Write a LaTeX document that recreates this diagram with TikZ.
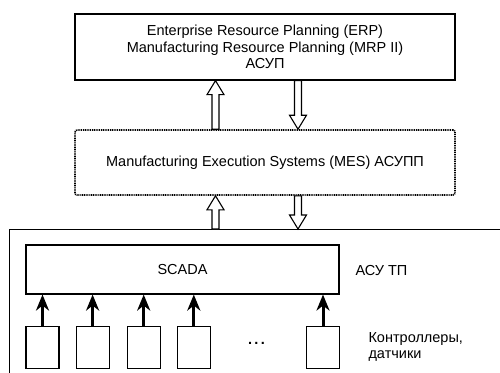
\documentclass[tikz,border=0pt]{standalone}
\usepackage{fontspec}
\setmainfont{Liberation Sans}
\usetikzlibrary{positioning,calc,arrows.meta}

\tikzset{
  level/.style={draw, line width=1.3pt, minimum width=380pt, minimum height=66pt, align=center},
  mesbox/.style={draw, line width=1.6pt, dash pattern=on 1pt off 0.8pt, rounded corners=2pt,
    minimum width=380pt, minimum height=65pt},
  unit/.style={draw, line width=1.1pt, minimum width=33pt, minimum height=42pt, inner sep=0pt},
  fat/.style={draw, fill=white, line width=1.1pt},
  sig/.style={line width=3pt, -{Stealth[length=16pt,width=13pt,inset=5pt]}}
}

% hollow arrow from tail #1 to tip #2
\newcommand{\fatarrow}[2]{
  \coordinate (fa-t) at #1;
  \coordinate (fa-h) at #2;
  \coordinate (fa-n) at ($(fa-h)!14pt!(fa-t)$);
  \draw[fat] ($(fa-t)!3.5pt!90:(fa-h)$) -- ($(fa-n)!3.5pt!-90:(fa-t)$) -- ($(fa-n)!8.5pt!-90:(fa-t)$)
    -- (fa-h) -- ($(fa-n)!8.5pt!90:(fa-t)$) -- ($(fa-n)!3.5pt!90:(fa-t)$)
    -- ($(fa-t)!3.5pt!-90:(fa-h)$) -- cycle;
}

\begin{document}
\begin{tikzpicture}[x=1pt, y=-1pt, font=\fontsize{14.5}{16.7}\selectfont]
\useasboundingbox (0,0) rectangle (500,372);
\clip (0,0) rectangle (500,372);

\node[level] (erp) at (265,47) {Enterprise Resource Planning (ERP)\\Manufacturing Resource Planning (MRP II)\\АСУП};
\node[mesbox] (mes) at (265,162.5) {Manufacturing Execution Systems (MES) АСУПП};
\node[draw, line width=1.1pt, anchor=north west, minimum width=520pt, minimum height=170pt] (plant) at (9,229) {};

\node[draw, line width=1.1pt, minimum width=313pt, minimum height=49pt] (scada) at (182.5,269.5) {SCADA};
\node[anchor=west] (asutp) at (352,271) {АСУ ТП};

\node[unit] (c1) at (42.5,347.5) {};
\node[unit, right=16pt of c1] (c2) {};
\node[unit, right=17pt of c2] (c3) {};
\node[unit, right=16pt of c3] (c4) {};
\node[unit] (cn) at (323,347.5) {};
\node (dots) at (256.5,343) {\textbf{.\,.\,.}};
\node[anchor=west, align=left] (ctrl) at (365,347) {Контроллеры,\\датчики};

\foreach \c in {c1,c2,c3,c4,cn}
  \draw[sig] (\c.north) -- (\c.north |- scada.south);

\fatarrow{($(mes.north)+(-49.5,0)$)}{($(erp.south)+(-49.5,0)$)}
\fatarrow{($(erp.south)+(33,0)$)}{($(mes.north)+(33,0)$)}
\fatarrow{($(mes.south |- plant.north)+(-49.5,0)$)}{($(mes.south)+(-49.5,0)$)}
\fatarrow{($(mes.south)+(33,0)$)}{($(mes.south |- plant.north)+(33,0)$)}
\end{tikzpicture}
\end{document}
